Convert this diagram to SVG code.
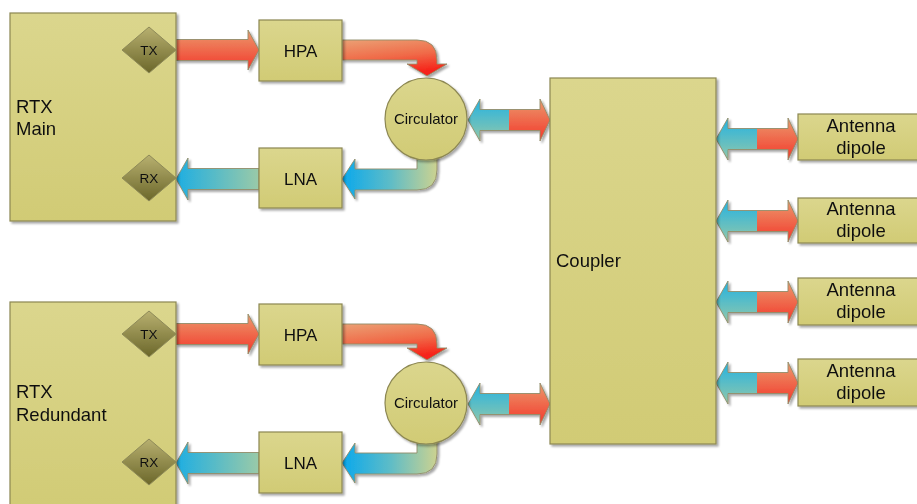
<svg xmlns="http://www.w3.org/2000/svg" xmlns:xlink="http://www.w3.org/1999/xlink" width="917" height="504" viewBox="0 0 917 504">
  <defs>
    <linearGradient id="boxFill" x1="0" y1="0" x2="0" y2="1">
      <stop offset="0" stop-color="#dbd68d"/>
      <stop offset="1" stop-color="#d1cb75"/>
    </linearGradient>
    <linearGradient id="portFill" x1="0" y1="0" x2="0" y2="1">
      <stop offset="0" stop-color="#b8b070"/>
      <stop offset="1" stop-color="#6b672a"/>
    </linearGradient>
    <linearGradient id="redV" x1="0" y1="0" x2="0" y2="1">
      <stop offset="0" stop-color="#eb9a6e"/>
      <stop offset="1" stop-color="#f3372a"/>
    </linearGradient>
    <linearGradient id="redBend" x1="0" y1="0" x2="0.3" y2="1">
      <stop offset="0" stop-color="#eba074"/>
      <stop offset="0.55" stop-color="#f06a48"/>
      <stop offset="1" stop-color="#f6241a"/>
    </linearGradient>
    <linearGradient id="blueV" x1="0" y1="0" x2="0" y2="1">
      <stop offset="0" stop-color="#22b2e2"/>
      <stop offset="1" stop-color="#92c8aa"/>
    </linearGradient>
    <linearGradient id="blueH" x1="0" y1="0" x2="1" y2="0">
      <stop offset="0" stop-color="#1eaee2"/>
      <stop offset="1" stop-color="#9acaa8"/>
    </linearGradient>
    <linearGradient id="blueBend" x1="0" y1="0" x2="1" y2="0">
      <stop offset="0" stop-color="#0aa8ec"/>
      <stop offset="0.5" stop-color="#5cbcc8"/>
      <stop offset="1" stop-color="#ccd290"/>
    </linearGradient>
    <filter id="shadow" x="-10%" y="-10%" width="130%" height="130%">
      <feDropShadow dx="2" dy="2" stdDeviation="1" flood-color="#000" flood-opacity="0.35"/>
    </filter>
    <!-- two-way link: blue half points left, red half points right -->
    <g id="duplex">
      <path d="M0,0 L12,-21 V-10.5 H41 V10.5 H12 V21 Z" fill="url(#blueV)"/>
      <path d="M41,-10.5 H72 V-21 L82,0 L72,21 V10.5 H41 Z" fill="url(#redV)"/>
      <path class="edge" d="M0,0 L12,-21 V-10.5 H72 V-21 L82,0 L72,21 V10.5 H12 V21 Z" fill="none"/>
    </g>
  </defs>
  <style>
    .box { fill: url(#boxFill); stroke: #8c8752; stroke-width: 1.2; }
    .port { fill: url(#portFill); stroke: #8e8a58; stroke-width: 1; }
    .edge { stroke: #928c6a; stroke-width: 0.9; }
    text { font-family: "Liberation Sans", Arial, sans-serif; fill: #111; }
    .lbl { font-size: 17px; }
    .big { font-size: 18.5px; }
    .mid { text-anchor: middle; }
    .small { font-size: 13.5px; }
    .circ { font-size: 15px; }
  </style>

  <rect width="917" height="504" fill="#fff"/>

  <!-- signal paths -->
  <g id="connectors" filter="url(#shadow)">
    <!-- main chain -->
    <path class="edge" d="M176,39.5 H248 V30 L259,50 L248,70 V60.5 H176 Z" fill="url(#redV)"/>
    <path class="edge" d="M342,40 H417 Q437,40 437,60 V64 H447 L427,76 L407,64 H417 V60 H342 Z" fill="url(#redBend)"/>
    <path class="edge" d="M417,150 V169 H355 V159 L342,179 L355,199 V190 H417 Q437,190 437,170 V150 Z" fill="url(#blueBend)"/>
    <path class="edge" d="M259,168.5 H188 V158 L176,179 L188,200 V189.5 H259 Z" fill="url(#blueH)"/>
    <use xlink:href="#duplex" transform="translate(468,120)"/>
    <!-- redundant chain -->
    <path class="edge" d="M176,323.5 H248 V314 L259,334 L248,354 V344.5 H176 Z" fill="url(#redV)"/>
    <path class="edge" d="M342,324 H417 Q437,324 437,344 V348 H447 L427,360 L407,348 H417 V344 H342 Z" fill="url(#redBend)"/>
    <path class="edge" d="M417,434 V453 H355 V443 L342,463 L355,483 V474 H417 Q437,474 437,454 V434 Z" fill="url(#blueBend)"/>
    <path class="edge" d="M259,452.5 H188 V442 L176,463 L188,484 V473.5 H259 Z" fill="url(#blueH)"/>
    <use xlink:href="#duplex" transform="translate(468,404)"/>
    <!-- antenna feeds -->
    <use xlink:href="#duplex" transform="translate(716,139)"/>
    <use xlink:href="#duplex" transform="translate(716,221)"/>
    <use xlink:href="#duplex" transform="translate(716,302)"/>
    <use xlink:href="#duplex" transform="translate(716,383)"/>
  </g>

  <g id="nodes" filter="url(#shadow)">
    <g id="rtx-main">
      <rect class="box" x="10" y="13" width="166" height="208"/>
      <text class="big" x="16" y="113">RTX</text>
      <text class="big" x="16" y="135">Main</text>
    </g>
    <g id="rtx-main-tx">
      <polygon class="port" points="149,27 176,50 149,73 122,50"/>
      <text class="small mid" x="149" y="55">TX</text>
    </g>
    <g id="rtx-main-rx">
      <polygon class="port" points="149,155 176,178 149,201 122,178"/>
      <text class="small mid" x="149" y="183">RX</text>
    </g>
    <g id="hpa-main">
      <rect class="box" x="259" y="20" width="83" height="61"/>
      <text class="lbl mid" x="300.5" y="57">HPA</text>
    </g>
    <g id="lna-main">
      <rect class="box" x="259" y="148" width="83" height="60"/>
      <text class="lbl mid" x="300.5" y="185">LNA</text>
    </g>
    <g id="circulator-main">
      <circle class="box" cx="426" cy="119" r="41"/>
      <text class="circ mid" x="426" y="124">Circulator</text>
    </g>

    <g id="rtx-redundant">
      <rect class="box" x="10" y="302" width="166" height="212"/>
      <text class="big" x="16" y="398">RTX</text>
      <text class="big" x="16" y="421">Redundant</text>
    </g>
    <g id="rtx-redundant-tx">
      <polygon class="port" points="149,311 176,334 149,357 122,334"/>
      <text class="small mid" x="149" y="339">TX</text>
    </g>
    <g id="rtx-redundant-rx">
      <polygon class="port" points="149,439 176,462 149,485 122,462"/>
      <text class="small mid" x="149" y="467">RX</text>
    </g>
    <g id="hpa-redundant">
      <rect class="box" x="259" y="304" width="83" height="61"/>
      <text class="lbl mid" x="300.5" y="341">HPA</text>
    </g>
    <g id="lna-redundant">
      <rect class="box" x="259" y="432" width="83" height="61"/>
      <text class="lbl mid" x="300.5" y="469">LNA</text>
    </g>
    <g id="circulator-redundant">
      <circle class="box" cx="426" cy="403" r="41"/>
      <text class="circ mid" x="426" y="408">Circulator</text>
    </g>

    <g id="coupler">
      <rect class="box" x="550" y="78" width="166" height="366"/>
      <text class="big" x="556" y="267">Coupler</text>
    </g>

    <g id="antenna-1">
      <rect class="box" x="798" y="114" width="122" height="46"/>
      <text class="big mid" x="861" y="132">Antenna</text>
      <text class="big mid" x="861" y="154">dipole</text>
    </g>
    <g id="antenna-2">
      <rect class="box" x="798" y="198" width="122" height="45"/>
      <text class="big mid" x="861" y="215">Antenna</text>
      <text class="big mid" x="861" y="237">dipole</text>
    </g>
    <g id="antenna-3">
      <rect class="box" x="798" y="278" width="122" height="47"/>
      <text class="big mid" x="861" y="296">Antenna</text>
      <text class="big mid" x="861" y="318">dipole</text>
    </g>
    <g id="antenna-4">
      <rect class="box" x="798" y="359" width="122" height="47"/>
      <text class="big mid" x="861" y="377">Antenna</text>
      <text class="big mid" x="861" y="399">dipole</text>
    </g>
  </g>
</svg>
